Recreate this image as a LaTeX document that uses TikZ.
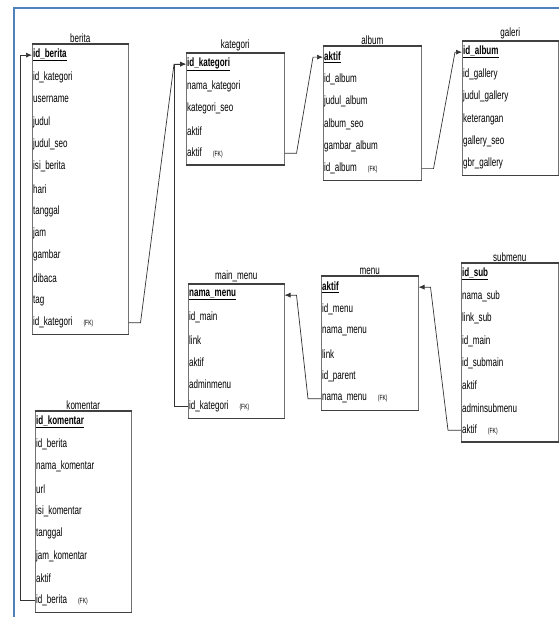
\documentclass[tikz,border=0pt]{standalone}
\usepackage{fontspec}
\setmainfont[FakeStretch=0.67]{Liberation Sans}
\usetikzlibrary{arrows.meta}
\definecolor{frameblue}{RGB}{79,129,189}
\newcommand{\fk}{\hspace{11pt}{\fontsize{7.5}{8}\selectfont (FK)}}
\newcommand{\pk}[1]{\underline{\textbf{#1}}}

\begin{document}
\begin{tikzpicture}[x=1pt,y=-1pt]
   \useasboundingbox (0,0) rectangle (559,617);
   \tikzstyle{tbl}=[draw=black!55, line width=0.5pt, anchor=north west, inner sep=0pt]
   \tikzstyle{title}=[anchor=south, inner sep=1.5pt, font=\fontsize{12}{14}\selectfont]
   \tikzstyle{row}=[anchor=west, inner sep=1pt, font=\fontsize{12}{14}\selectfont]
   \tikzstyle{rule}=[draw=black!75, line width=1.3pt]
   \tikzstyle{rel}=[draw=black!80, line width=0.7pt, -{Latex[length=6pt,width=5pt]}]
   % frame
   \draw[frameblue, line width=2pt] (14,617) |- (559,8);
   % berita
   \node[tbl, minimum width=96pt, minimum height=13*22.3pt] (berita) at (32,44) {};
   \node[title] (tberita) at (berita.north) {berita};
   \foreach \r [count=\i] in {\pk{id\_berita},id\_kategori,username,judul,judul\_seo,isi\_berita,hari,tanggal,jam,gambar,dibaca,tag,id\_kategori\fk}
      \node[row] (berita\i) at (32,{44+22.3*\i-11.15}) {\r};
   % kategori
   \node[tbl, minimum width=98pt, minimum height=5*22.3pt] (kategori) at (186,53) {};
   \node[title] (tkategori) at (kategori.north) {kategori};
   \foreach \r [count=\i] in {\pk{id\_kategori},nama\_kategori,kategori\_seo,aktif,aktif\fk}
      \node[row] (kategori\i) at (186,{53+22.3*\i-11.15}) {\r};
   % album
   \node[tbl, minimum width=98pt, minimum height=6*22.3pt] (album) at (323,46) {};
   \node[title] (talbum) at (album.north) {album};
   \foreach \r [count=\i] in {\pk{aktif},id\_album,judul\_album,album\_seo,gambar\_album,id\_album\fk}
      \node[row] (album\i) at (323,{46+22.3*\i-11.15}) {\r};
   % galeri
   \node[tbl, minimum width=96pt, minimum height=6*22.3pt] (galeri) at (462,41) {};
   \node[title] (tgaleri) at (galeri.north) {galeri};
   \foreach \r [count=\i] in {\pk{id\_album},id\_gallery,judul\_gallery,keterangan,gallery\_seo,gbr\_gallery}
      \node[row] (galeri\i) at (462,{41+22.3*\i-11.15}) {\r};
   % komentar
   \node[tbl, minimum width=96pt, minimum height=9*22.3pt] (komentar) at (35,411) {};
   \node[title] (tkomentar) at (komentar.north) {komentar};
   \foreach \r [count=\i] in {\pk{id\_komentar},id\_berita,nama\_komentar,url,isi\_komentar,tanggal,jam\_komentar,aktif,id\_berita\fk}
      \node[row] (komentar\i) at (35,{411+22.3*\i-11.15}) {\r};
   % main_menu
   \node[tbl, minimum width=96pt, minimum height=6*22.3pt] (mainmenu) at (188,284) {};
   \node[title] (tmainmenu) at (mainmenu.north) {main\_menu};
   \foreach \r [count=\i] in {\pk{nama\_menu},id\_main,link,aktif,adminmenu,id\_kategori\fk}
      \node[row] (mainmenu\i) at (188,{284+22.3*\i-11.15}) {\r};
   % menu
   \node[tbl, minimum width=97pt, minimum height=6*22.3pt] (menu) at (321,276) {};
   \node[title] (tmenu) at (menu.north) {menu};
   \foreach \r [count=\i] in {\pk{aktif},id\_menu,nama\_menu,link,id\_parent,nama\_menu\fk}
      \node[row] (menu\i) at (321,{276+22.3*\i-11.15}) {\r};
   % submenu
   \node[tbl, minimum width=97pt, minimum height=8*22.3pt] (submenu) at (461,263) {};
   \node[title] (tsubmenu) at (submenu.north) {submenu};
   \foreach \r [count=\i] in {\pk{id\_sub},nama\_sub,link\_sub,id\_main,id\_submain,aktif,adminsubmenu,aktif\fk}
      \node[row] (submenu\i) at (461,{263+22.3*\i-11.15}) {\r};
   % top and bottom rules
   \foreach \t in {berita,kategori,album,galeri,komentar,mainmenu,menu,submenu}
      \draw[rule] (\t.north west) -- (\t.north east) (\t.south west) -- (\t.south east);
   % relations
   \draw[rel] (berita.east |- berita13) -- ++(12,0) -- ([xshift=-12pt]kategori.west |- kategori1) -- (kategori.west |- kategori1);
   \draw[rel] (mainmenu.west |- mainmenu6) -- ++(-14,0) -- ([xshift=-12pt]kategori.west |- kategori1) -- (kategori.west |- kategori1);
   \draw[rel] (kategori.east |- kategori5) -- ++(12,0) -- ([xshift=-10pt]album.west |- album1) -- (album.west |- album1);
   \draw[rel] (album.east |- album6) -- ++(12,0) -- ([xshift=-7pt]galeri.west |- galeri1) -- (galeri.west |- galeri1);
   \draw[rel] (komentar.west |- komentar9) -- ++(-15,0) |- (berita.west |- berita1);
   \draw[rel] (menu.west |- menu6) -- ++(-13,0) -- ([xshift=12pt]mainmenu.east |- mainmenu1) -- (mainmenu.east |- mainmenu1);
   \draw[rel] (submenu.west |- submenu8) -- ++(-13,0) -- ([xshift=12pt]menu.east |- menu1) -- (menu.east |- menu1);
\end{tikzpicture}
\end{document}
